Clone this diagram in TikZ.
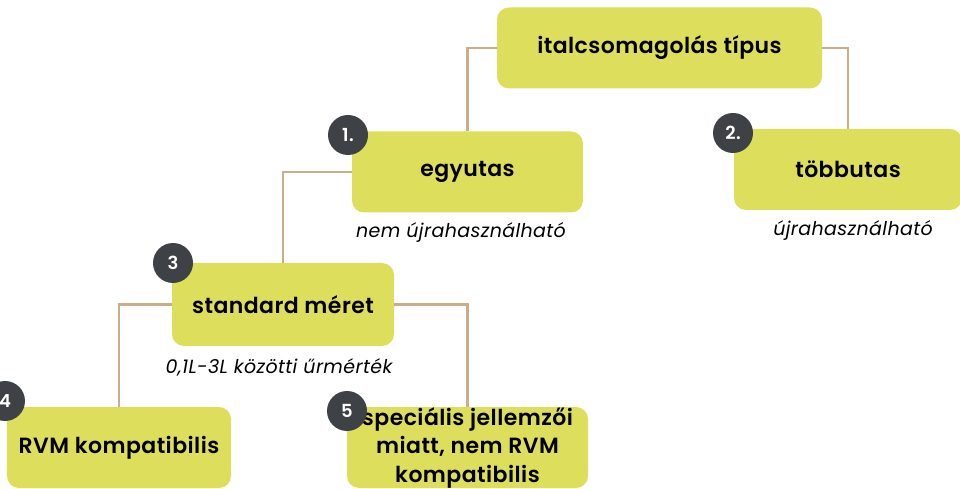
\documentclass[tikz,border=0pt]{standalone}
\usepackage{fontspec}
\setmainfont{Poppins}[BoldFont={Poppins SemiBold}, LetterSpace=2]
\usetikzlibrary{positioning}
\definecolor{Boxcolor}{RGB}{221, 223, 92}
\definecolor{Badgecolor}{RGB}{62, 65, 69}
\definecolor{Linecolor}{RGB}{201, 173, 140}
\def\boxheight{81}
\def\badgesize{40}
\def\cornerradius{12}

\tikzset{
    box/.style={draw=none, fill=Boxcolor, rounded corners=\cornerradius bp, minimum height=\boxheight bp, inner sep=0pt, align=center, font=\fontsize{22bp}{28.5bp}\selectfont\bfseries},
    badge/.style={shape=circle, fill=Badgecolor, text=white, minimum size=\badgesize bp, inner sep=0pt, font=\fontsize{18bp}{20bp}\selectfont\bfseries},
    note/.style={font=\fontsize{19bp}{20bp}\selectfont\itshape},
    link/.style={draw=Linecolor, line width=2.2bp}
}

\begin{document}
\begin{tikzpicture}[x=1bp, y=-1bp]
    \useasboundingbox (0, 0) rectangle (960, 489);
    % boxes
    \node[box, minimum width=325bp] (B0) at (659.5, 48) {italcsomagolás típus};
    \node[box, minimum width=231bp] (B1) at (467.5, 172) {egyutas};
    \node[box, minimum width=228bp] (B2) at (848, 169.5) {többutas};
    \node[box, minimum width=222bp, minimum height=83bp] (B3) at (283, 304.5) {standard méret};
    \node[box, minimum width=224bp] (B4) at (119, 447.5) {RVM kompatibilis};
    \node[box, minimum width=241bp] (B5) at (467.5, 447.5) {speciális jellemzői\\miatt, nem RVM\\kompatibilis};
    % connectors
    \draw[link] (B0.west) -| (B1.north);
    \draw[link] (B0.east) -| (B2.north);
    \draw[link] (B1.west) -| (B3.north);
    \draw[link] (B3.west) -| (B4.north);
    \draw[link] (B3.east) -| (B5.north);
    % notes
    \node[note] (C1) at (461, 232) {nem újrahasználható};
    \node[note] (C2) at (853, 230) {újrahasználható};
    \node[note] (C3) at (279, 367) {0,1L-3L közötti űrmérték};
    % badges
    \node[badge] (N1) at (348, 135) {1.};
    \node[badge] (N2) at (733, 133) {2.};
    \node[badge] (N3) at (173, 263) {3};
    \node[badge] (N4) at (5, 401) {4};
    \node[badge] (N5) at (347, 411) {5};
\end{tikzpicture}
\end{document}
